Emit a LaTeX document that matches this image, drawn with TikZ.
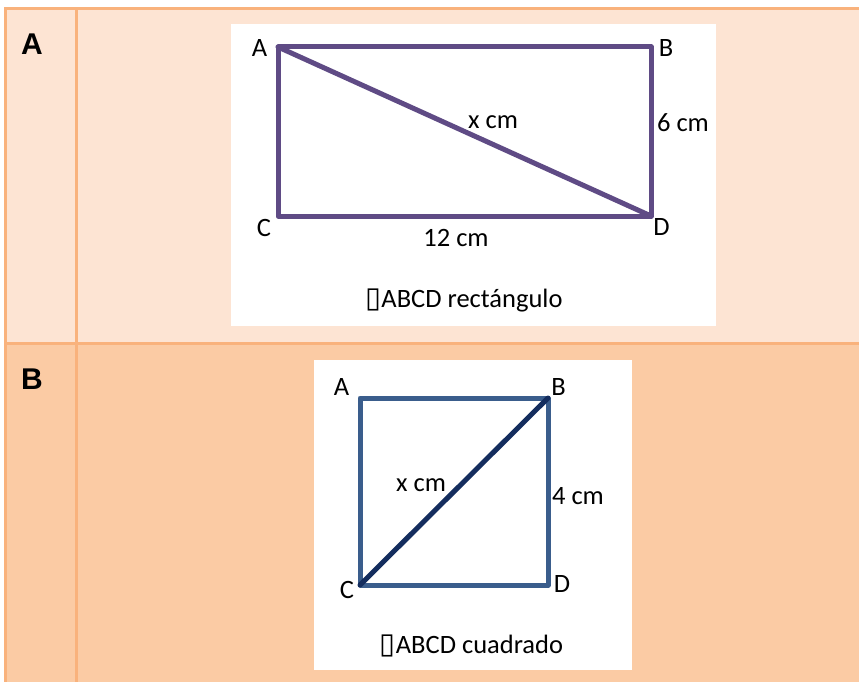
\documentclass[tikz,border=0pt]{standalone}
\usepackage{fontspec}
\setmainfont{Carlito}
\newfontfamily\rowfont{Liberation Sans}
\newfontfamily\boxfont{DejaVu Sans}
\usetikzlibrary{positioning}

\definecolor{rowA}{HTML}{FDE4D3}
\definecolor{rowB}{HTML}{FBCBA4}
\definecolor{tablerule}{HTML}{F9B27C}
\definecolor{rectpurple}{HTML}{5F4B85}
\definecolor{sqblue}{HTML}{3A5D8C}
\definecolor{sqnavy}{HTML}{142D5E}

\begin{document}
\begin{tikzpicture}[x=1pt, y=-1pt,
  every node/.style={font=\fontsize{26.5}{30}\selectfont, inner sep=0pt},
  rowlabel/.style={font=\rowfont\bfseries\fontsize{30}{34}\selectfont},
  tableline/.style={tablerule, line width=3pt},
  side/.style={line width=5pt, line join=round, line cap=round}
]
  \useasboundingbox (0,0) rectangle (859,682);
  \fill[white] (0,0) rectangle (859,682);

  % table
  \fill[rowA] (5,8) rectangle (859,343);
  \fill[rowB] (5,343) rectangle (859,682);
  \draw[tableline] (5.5,682) -- (5.5,8.5) -- (859,8.5);
  \draw[tableline] (76.5,8) -- (76.5,682);
  \draw[tableline] (5,343) -- (859,343);
  \node[rowlabel] (rowa) at (32,44) {A};
  \node[rowlabel] (rowb) at (32,379) {B};

  % rectangle
  \fill[white] (231,24) rectangle (716,326);
  \coordinate (rA) at (278,47);
  \coordinate (rB) at (651,47);
  \coordinate (rC) at (278,216);
  \coordinate (rD) at (651,216);
  \draw[side, rectpurple] (rA) -- (rB) -- (rD) -- (rC) -- cycle;
  \draw[side, rectpurple] (rA) -- (rD);
  \node (lrA) at (259.5,47.5) {A};
  \node (lrB) at (666,47.5) {B};
  \node (lrC) at (264,228) {C};
  \node (lrD) at (661.5,227) {D};
  \node (rdiag) at (493,122) {x cm};
  \node (rside) at (683,123) {6 cm};
  \node (rbase) at (456,238) {12 cm};
  \node[anchor=base] (rcap) at (464,307) {{\boxfont\fontsize{29}{32}\selectfont ▯}ABCD rectángulo};

  % square
  \fill[white] (314,360) rectangle (632,670);
  \coordinate (sA) at (360,398);
  \coordinate (sB) at (548,398);
  \coordinate (sC) at (360,585);
  \coordinate (sD) at (548,585);
  \draw[side, sqblue] (sA) -- (sB) -- (sD) -- (sC) -- cycle;
  \draw[side, sqnavy] (sC) -- (sB);
  \node (lsA) at (341.5,386.5) {A};
  \node (lsB) at (558.5,386.5) {B};
  \node (lsC) at (347,590) {C};
  \node (lsD) at (562,583.5) {D};
  \node (sdiag) at (421,485.5) {x cm};
  \node (sside) at (578,496.5) {4 cm};
  \node[anchor=base] (scap) at (471.5,653) {{\boxfont\fontsize{29}{32}\selectfont ▯}ABCD cuadrado};
\end{tikzpicture}
\end{document}
